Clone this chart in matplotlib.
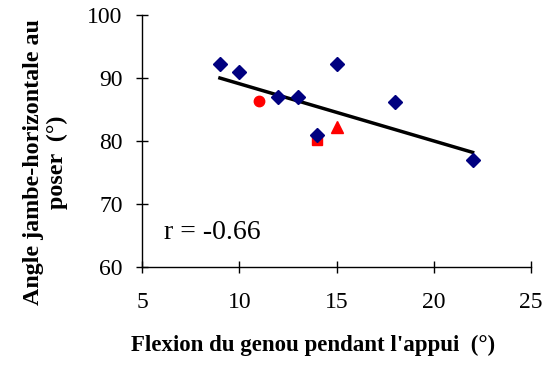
import matplotlib
matplotlib.use("Agg")
import matplotlib.pyplot as plt

# données
blue_x = [9, 10, 12, 13, 14, 15, 18, 22]
blue_y = [92.2, 91, 87, 87, 81, 92.2, 86.2, 77]
circle_x = [11]
circle_y = [86.3]
square_x = [14]
square_y = [80.2]
triangle_x = [15]
triangle_y = [82.2]
trend_x = [9, 22]
trend_y = [90, 78.2]

x_ticks = [5, 10, 15, 20, 25]
y_ticks = [60, 70, 80, 90, 100]

plt.rcParams['font.family'] = ['Liberation Serif', 'DejaVu Serif']

fig = plt.figure(figsize=(5.49, 3.67), dpi=100)
ax = fig.add_axes([0.259, 0.2725, 0.708, 0.6865])

ax.plot(trend_x, trend_y, color='black', lw=2.5, zorder=2)
ax.plot(blue_x, blue_y, 'D', color='#000080', ms=7, ls='none', zorder=3)
ax.plot(circle_x, circle_y, 'o', color='#FF0000', ms=7.5, ls='none', zorder=3)
ax.plot(square_x, square_y, 's', color='#FF0000', ms=7, ls='none', zorder=2.5)
ax.plot(triangle_x, triangle_y, '^', color='#FF0000', ms=9, ls='none', zorder=3)

ax.set_xlim(5, 25)
ax.set_ylim(60, 100)
ax.set_xticks(x_ticks)
ax.set_yticks(y_ticks)
ax.tick_params(direction='inout', length=8, width=1, labelsize=17)
ax.tick_params(axis='x', pad=14)
ax.tick_params(axis='y', pad=10)
for s in ['top', 'right']:
    ax.spines[s].set_visible(False)
ax.spines['left'].set_linewidth(1)
ax.spines['bottom'].set_linewidth(1)

ax.text(6.1, 65.5, 'r = -0.66', fontsize=20, va='center', ha='left')

ax.set_xlabel("Flexion du genou pendant l'appui  (°)", fontsize=16.5, fontweight='bold')
ax.set_ylabel("Angle jambe-horizontale au\nposer  (°)", fontsize=17.3, fontweight='bold')
ax.xaxis.set_label_coords(0.44, -0.27)
ax.yaxis.set_label_coords(-0.19, 0.417)

fig.savefig('out.png', dpi=100)
